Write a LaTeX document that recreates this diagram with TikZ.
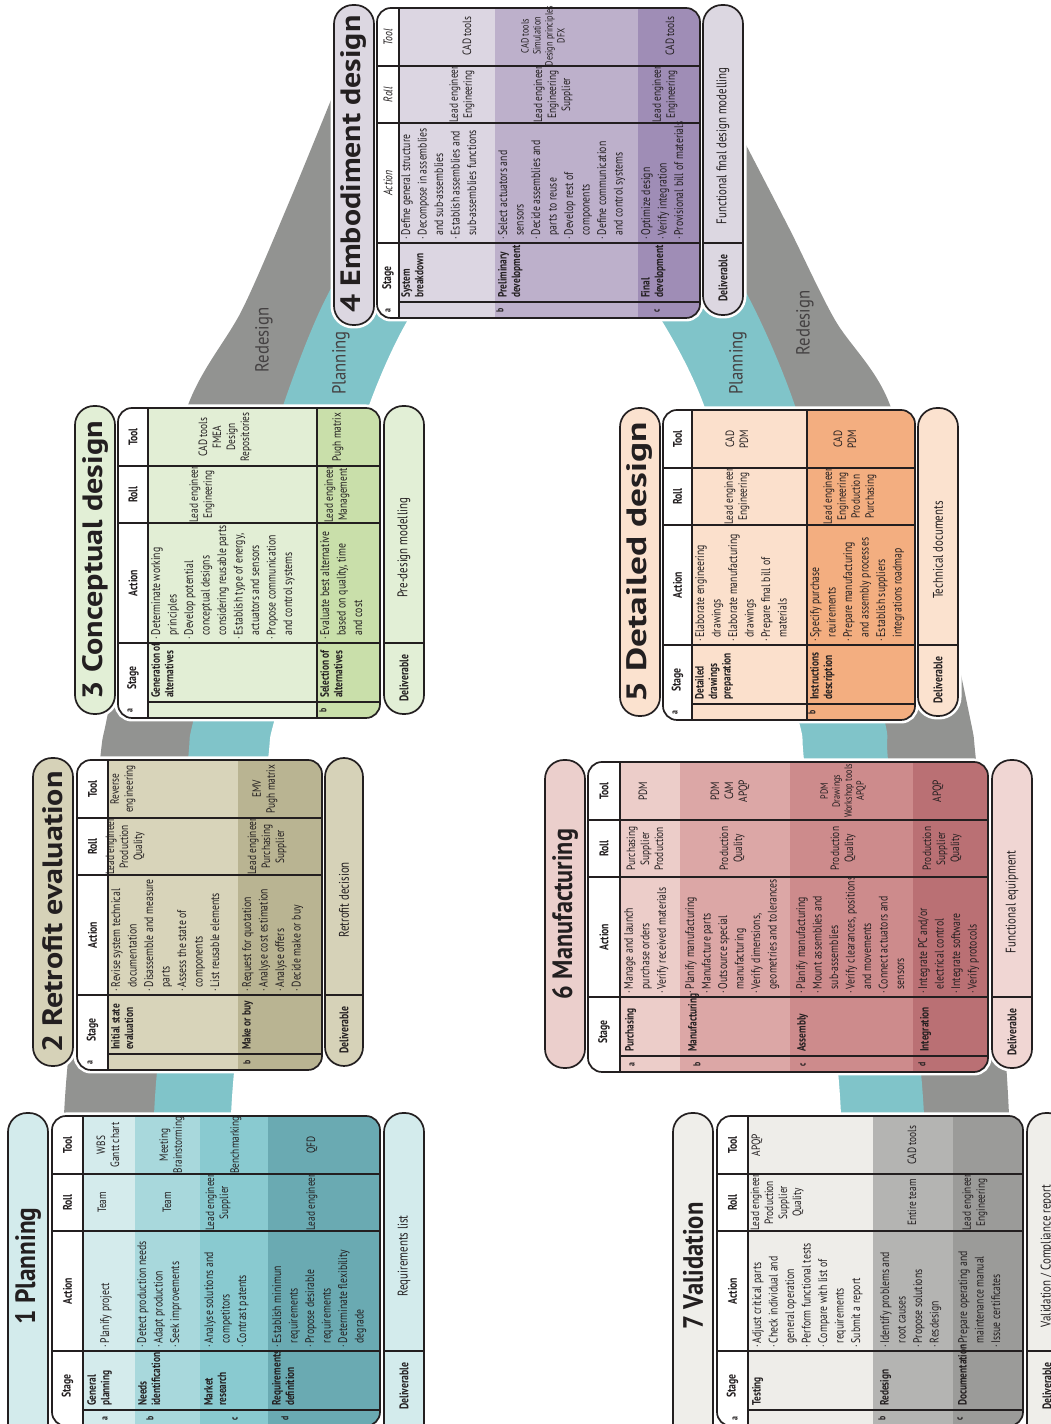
\documentclass[tikz,border=0pt]{standalone}
\usepackage{fontspec}
\usepackage{graphicx}
\setmainfont{PT Sans}[FakeStretch=0.78]
\newfontfamily\titlefont{PT Sans}[FakeStretch=0.85]
\newfontfamily\bandfont{PT Sans}[FakeStretch=0.88]
\definecolor{bandgray}{RGB}{146,147,145}
\definecolor{bandteal}{RGB}{128,196,201}
\definecolor{ink}{RGB}{35,31,32}
\definecolor{pAt}{RGB}{211,235,236}\definecolor{pAa}{RGB}{212,235,236}\definecolor{pAb}{RGB}{168,216,220}\definecolor{pAc}{RGB}{137,202,208}\definecolor{pAd}{RGB}{106,170,178}
\definecolor{pBt}{RGB}{214,210,184}\definecolor{pBa}{RGB}{216,212,186}\definecolor{pBb}{RGB}{185,180,146}
\definecolor{pCt}{RGB}{226,239,214}\definecolor{pCa}{RGB}{226,238,213}\definecolor{pCb}{RGB}{201,223,170}
\definecolor{pDt}{RGB}{220,215,225}\definecolor{pDa}{RGB}{220,214,226}\definecolor{pDb}{RGB}{189,176,203}\definecolor{pDc}{RGB}{159,141,182}
\definecolor{pEt}{RGB}{251,226,207}\definecolor{pEa}{RGB}{251,224,204}\definecolor{pEb}{RGB}{243,174,128}
\definecolor{pFt}{RGB}{235,207,204}\definecolor{pFd}{RGB}{240,214,211}\definecolor{pFa}{RGB}{236,205,201}\definecolor{pFb}{RGB}{220,167,166}\definecolor{pFc}{RGB}{205,139,140}\definecolor{pFdd}{RGB}{186,112,116}
\definecolor{pGt}{RGB}{239,238,234}\definecolor{pGa}{RGB}{238,237,233}\definecolor{pGb}{RGB}{180,180,178}\definecolor{pGc}{RGB}{155,155,153}
\newcommand\bu{\makebox[4.5pt][l]{·}}
\newcommand\ind{\hspace*{4.5pt}}
\newcommand\pillhalo[4]{\draw[halo,rounded corners=19pt] (#1,-#3) rectangle (#2,-#4);}
\newcommand\pillbody[5]{\draw[outl,fill=#5,rounded corners=19pt] (#1,-#3) rectangle (#2,-#4);}
\newcommand\tblhalo[2]{\draw[halo,rounded corners=14pt] (0,-#1) rectangle (310,-#2);}
\newcommand\tblclip[2]{\clip[rounded corners=14pt] (0,-#1) rectangle (310,-#2);}
\newcommand\rowfill[3]{\fill[#1] (0,-#2) rectangle (310,-#3);}
\newcommand\tbllines[3]{%
  \draw[inl] (0,-#3) -- (310,-#3);
  \draw[inl] (16,-#3) -- (16,-#2);
  \draw[inl] (75,-#1) -- (75,-#2);
  \draw[inl] (195,-#1) -- (195,-#2);
  \draw[inl] (252,-#1) -- (252,-#2);
  \draw[outl,rounded corners=14pt] (0,-#1) rectangle (310,-#2);}
\newcommand\delivbody[5]{%
  \draw[outl,fill=#5,rounded corners=19pt] (#1,-#3) rectangle (#2,-#4);
  \draw[inl] (75,-#3) -- (75,-#4);}
\tikzset{
  halo/.style={draw=white, line width=7pt},
  outl/.style={draw=ink, line width=1.7pt},
  inl/.style={draw=ink, line width=1.1pt},
  hdr/.style={inner sep=0pt, text=ink, font=\bfseries\fontsize{12.5}{14}\selectfont},
  hdri/.style={inner sep=0pt, text=ink, font=\itshape\fontsize{12.5}{14}\selectfont},
  ltr/.style={inner sep=0pt, text=ink, font=\bfseries\fontsize{10}{12}\selectfont},
  stg/.style={anchor=north west, inner sep=0pt, align=left, text=ink, font=\bfseries\fontsize{12}{13.5}\selectfont},
  act/.style={anchor=north west, inner sep=0pt, align=left, text=ink, font=\fontsize{12.5}{16.5}\selectfont},
  cell/.style={inner sep=0pt, align=center, text=ink, font=\fontsize{12}{14}\selectfont},
  cellsm/.style={inner sep=0pt, align=center, text=ink, font=\fontsize{10.5}{12}\selectfont},
  dlab/.style={inner sep=0pt, text=ink, font=\bfseries\fontsize{12.5}{14}\selectfont},
  dtxt/.style={inner sep=0pt, text=ink, font=\fontsize{14}{16}\selectfont},
  ttl/.style={inner sep=0pt, text=ink, font=\titlefont\bfseries\fontsize{28}{30}\selectfont},
  bandlbl/.style={inner sep=0pt, text=ink!85, font=\bandfont\fontsize{19}{22}\selectfont, rotate=90},
}
\begin{document}
\begin{tikzpicture}[x=1pt,y=1pt]
\useasboundingbox (0,0) rectangle (1051,1424);
\fill[white] (0,0) rectangle (1051,1424);
\clip (0,0) rectangle (1051,1424);
% ---------------- bands (portrait pixel coordinates) ----------------
\begin{scope}[shift={(0,1424)}, yscale=-1]
\fill[bandgray] plot[smooth] coordinates {(57,1440) (64,1115) (82,940) (100,760) (107,718) (140,560) (190,400) (242,310) (290,200) (333,95)} -- (345,70) -- (360,40) -- (715,40) -- (735,90) -- plot[smooth] coordinates {(745,143) (790,230) (835,320) (888,400) (935,560) (970,718) (976,760) (995,940) (1009,1115) (1017,1440)} -- cycle;
\fill[bandteal] plot[smooth] coordinates {(148,1440) (154,1115) (172,940) (188,760) (194,718) (235,560) (285,400) (325,300) (375,220) (450,165) (537,145) (625,165) (700,220) (750,300) (793,400) (842,560) (884,718) (888,760) (905,940) (924,1115) (930,1440)} -- cycle;
\fill[white] plot[smooth] coordinates {(226,1440) (231,1115) (250,940) (268,760) (275,718) (320,560) (371,400) (414,310) (470,250) (537,230) (605,250) (655,310) (702,400) (752,560) (798,718) (804,760) (822,940) (841,1115) (844,1440)} -- cycle;
\node[bandlbl] (redL) at (264,340) {Redesign};
\node[bandlbl] (plaL) at (341,363) {Planning};
\node[bandlbl] (plaR) at (738,363) {Planning};
\node[bandlbl] (redR) at (805,323) {Redesign};
\end{scope}
% ---------------- blocks (landscape coordinates, rotated) ----------------
\begin{scope}[rotate=90, transform shape]
%%%%% Block 1
\begin{scope}[xshift=-2pt]
\pillhalo{-28}{313}{8}{48}\tblhalo{52}{380}\pillhalo{-28}{313}{384}{424}
\pillbody{-28}{313}{8}{48}{pAt}
\node[ttl] (t1) at (160,-28) {\resizebox{117pt}{\height}{1 Planning}};
\begin{scope}\tblclip{52}{380}
\rowfill{pAa}{83}{135}\rowfill{pAb}{135}{200}\rowfill{pAc}{200}{268}\rowfill{pAd}{268}{380}\rowfill{white}{52}{83}
\end{scope}
\tbllines{52}{380}{83}
\node[hdr] (b1hs) at (40,-67.5) {Stage};
\node[hdr] (b1ha) at (135,-67.5) {Action};
\node[hdr] (b1hr) at (223.5,-67.5) {Roll};
\node[hdr] (b1ht) at (281,-67.5) {Tool};
\node[ltr] (b1la) at (7.5,-105) {a};
\node[ltr] (b1lb) at (7.5,-150) {b};
\node[ltr] (b1lc) at (7.5,-235) {c};
\node[ltr] (b1ld) at (7.5,-285) {d};
\node[stg] (b1sa) at (20,-87) {General\\planning};
\node[stg] (b1sb) at (20,-138) {Needs\\identification};
\node[stg] (b1sc) at (20,-204) {Market\\research};
\node[stg] (b1sd) at (20,-272) {Requirements\\definition};
\node[act,anchor=west] (b1aa) at (78,-106) {\bu Planify project};
\node[act] (b1ab) at (78,-137) {\bu Detect production needs\\\bu Adapt production\\\bu Seek improvements};
\node[act] (b1ac) at (78,-204) {\bu Analyse solutions and\\\ind competitors\\\bu Contrast patents};
\node[act] (b1ad) at (78,-272) {\bu Establish minimun\\\ind requirements\\\bu Propose desirable\\\ind requirements\\\bu Determinate flexibility\\\ind degrade};
\node[cell] (b1ra) at (223.5,-102) {Team};
\node[cell] (b1rb) at (223.5,-167) {Team};
\node[cell] (b1rc) at (223.5,-218) {Lead engineer\\Supplier};
\node[cell] (b1rd) at (223.5,-312) {Lead engineer};
\node[cell] (b1ta) at (281,-108) {WBS\\Gantt chart};
\node[cell] (b1tb) at (281,-172) {Meeting\\Brainstorming};
\node[cell] (b1tc) at (281,-236) {Benchmarking};
\node[cell] (b1td) at (281,-312) {QFD};
\delivbody{-28}{313}{384}{424}{pAt}
\node[dlab] (b1dl) at (40,-404) {Deliverable};
\node[dtxt] (b1dt) at (170,-404) {Requirements list};
\end{scope}
%%%%% Block 2
\begin{scope}[xshift=354pt]
\pillhalo{4}{312}{33}{73}\tblhalo{77}{322}\pillhalo{4}{312}{325}{363}
\pillbody{4}{312}{33}{73}{pBt}
\node[ttl] (t2) at (158,-53) {\resizebox{281pt}{\height}{2 Retrofit evaluation}};
\begin{scope}\tblclip{77}{322}
\rowfill{pBa}{108}{238}\rowfill{pBb}{238}{322}\rowfill{white}{77}{108}
\end{scope}
\tbllines{77}{322}{108}
\node[hdr] (b2hs) at (40,-92.5) {Stage};
\node[hdr] (b2ha) at (135,-92.5) {Action};
\node[hdr] (b2hr) at (223.5,-92.5) {Roll};
\node[hdr] (b2ht) at (281,-92.5) {Tool};
\node[ltr] (b2la) at (7.5,-90) {a};
\node[ltr] (b2lb) at (7.5,-247) {b};
\node[stg] (b2sa) at (20,-111) {Initial state\\evaluation};
\node[stg] (b2sb) at (20,-242) {Make or buy};
\node[act] (b2aa) at (78,-111) {\bu Revise system technical\\\ind documentation\\\bu Disassemble and measure\\\ind parts\\\bu Assess the state of\\\ind components\\\bu List reusable elements};
\node[act] (b2ab) at (78,-242) {\bu Request for quotation\\\bu Analyse cost estimation\\\bu Analyse offers\\\bu Decide make or buy};
\node[cell] (b2ra) at (223.5,-125) {Lead engineer\\Production\\Quality};
\node[cell] (b2rb) at (223.5,-267) {Lead engineer\\Purchasing\\Supplier};
\node[cell] (b2ta) at (281,-123) {Reverse\\engineering};
\node[cell] (b2tb) at (281,-265) {EMV\\Pugh matrix};
\delivbody{4}{312}{325}{363}{pBt}
\node[dlab] (b2dl) at (40,-344) {Deliverable};
\node[dtxt] (b2dt) at (170,-344) {Retrofit decision};
\end{scope}
%%%%% Block 3
\begin{scope}[xshift=706pt]
\pillhalo{4}{312}{75}{115}\tblhalo{118}{380}\pillhalo{4}{312}{384}{424}
\pillbody{4}{312}{75}{115}{pCt}
\node[ttl] (t3) at (158,-95) {\resizebox{278pt}{\height}{3 Conceptual design}};
\begin{scope}\tblclip{118}{380}
\rowfill{pCa}{148}{317}\rowfill{pCb}{317}{380}\rowfill{white}{118}{148}
\end{scope}
\draw[inl] (0,-317) -- (310,-317);
\tbllines{118}{380}{148}
\node[hdr] (b3hs) at (40,-133) {Stage};
\node[hdr] (b3ha) at (135,-133) {Action};
\node[hdr] (b3hr) at (223.5,-133) {Roll};
\node[hdr] (b3ht) at (281,-133) {Tool};
\node[ltr] (b3la) at (7.5,-130) {a};
\node[ltr] (b3lb) at (7.5,-323) {b};
\begin{scope}
\clip (16,-148) rectangle (75.5,-317);
\node[stg] (b3sa) at (20,-151) {Generation of\\alternatives};
\end{scope}
\node[stg] (b3sb) at (20,-320) {Selection of\\alternatives};
\node[act] (b3aa) at (78,-151) {\bu Determinate working\\\ind principles\\\bu Develop potential\\\ind conceptual designs\\\ind considering reusable parts\\\bu Establish type of energy,\\\ind actuators and sensors\\\bu Propose communication\\\ind and control systems};
\node[act] (b3ab) at (78,-320) {\bu Evaluate best alternative\\\ind based on quality, time\\\ind and cost};
\node[cell] (b3ra) at (223.5,-202) {Lead engineer\\Engineering};
\node[cell] (b3rb) at (223.5,-337) {Lead engineer\\Management};
\node[cell] (b3ta) at (281,-225) {CAD tools\\FMEA\\Design\\Repositories};
\node[cell] (b3tb) at (281,-338) {Pugh matrix};
\delivbody{4}{312}{384}{424}{pCt}
\node[dlab] (b3dl) at (40,-404) {Deliverable};
\node[dtxt] (b3dt) at (170,-404) {Pre-design modelling};
\end{scope}
%%%%% Block 4
\begin{scope}[xshift=1106pt]
\pillhalo{-7}{313}{334}{374}\tblhalo{377}{700}\pillhalo{3}{313}{703}{743}
\pillbody{-7}{313}{334}{374}{pDt}
\node[ttl] (t4) at (154,-354) {\resizebox{297pt}{\height}{4 Embodiment design}};
\begin{scope}\tblclip{377}{700}
\rowfill{pDa}{399}{495}\rowfill{pDb}{495}{638}\rowfill{pDc}{638}{700}\rowfill{white}{377}{399}
\end{scope}
\tbllines{377}{700}{399}
\node[hdr] (b4hs) at (40,-388) {Stage};
\node[hdri] (b4ha) at (135,-388) {Action};
\node[hdri] (b4hr) at (223.5,-388) {Roll};
\node[hdri] (b4ht) at (281,-388) {Tool};
\node[ltr] (b4la) at (7.5,-388) {a};
\node[ltr] (b4lb) at (7.5,-500) {b};
\node[ltr] (b4lc) at (7.5,-657) {c};
\node[stg] (b4sa) at (20,-401) {System\\breakdown};
\node[stg] (b4sb) at (20,-498) {Preliminary\\development};
\node[stg] (b4sc) at (20,-641) {Final\\development};
\node[act] (b4aa) at (78,-401) {\bu Define general structure\\\bu Decompose in assemblies\\\ind and sub-assemblies\\\bu Establish assemblies and\\\ind sub-assemblies functions};
\node[act] (b4ab) at (78,-498) {\bu Select actuators and\\\ind sensors\\\bu Decide assemblies and\\\ind parts to reuse\\\bu Develop rest of\\\ind components\\\bu Define communication\\\ind and control systems};
\node[act] (b4ac) at (78,-641) {\bu Optimize design\\\bu Verify integration\\\bu Provisional bill of materials};
\node[cell] (b4ra) at (223.5,-462) {Lead engineer\\Engineering};
\node[cell] (b4rb) at (223.5,-553) {Lead engineer\\Engineering\\Supplier};
\node[cell] (b4rc) at (223.5,-665) {Lead engineer\\Engineering};
\node[cell] (b4ta) at (282,-467) {CAD tools};
\node[cellsm] (b4tb) at (282,-543) {CAD tools\\Simulation\\Design principles\\DFX};
\node[cell] (b4tc) at (282,-670) {CAD tools};
\delivbody{3}{313}{703}{743}{pDt}
\node[dlab] (b4dl) at (40,-723) {Deliverable};
\node[dtxt] (b4dt) at (172,-723) {Functional final design modelling};
\end{scope}
%%%%% Block 5
\begin{scope}[xshift=704pt]
\pillhalo{4}{312}{620}{660}\tblhalo{663}{915}\pillhalo{4}{312}{918}{958}
\pillbody{4}{312}{620}{660}{pEt}
\node[ttl] (t5) at (158,-640) {\resizebox{280pt}{\height}{5 Detailed design}};
\begin{scope}\tblclip{663}{915}
\rowfill{pEa}{692}{807}\rowfill{pEb}{807}{915}\rowfill{white}{663}{692}
\end{scope}
\draw[inl] (0,-807) -- (310,-807);
\tbllines{663}{915}{692}
\node[hdr] (b5hs) at (40,-677.5) {Stage};
\node[hdr] (b5ha) at (135,-677.5) {Action};
\node[hdr] (b5hr) at (223.5,-677.5) {Roll};
\node[hdr] (b5ht) at (281,-677.5) {Tool};
\node[ltr] (b5la) at (7.5,-675) {a};
\node[ltr] (b5lb) at (7.5,-812) {b};
\node[stg] (b5sa) at (20,-695) {Detailed\\drawings\\preparation};
\node[stg] (b5sb) at (20,-810) {Instructions\\description};
\node[act] (b5aa) at (78,-695) {\bu Elaborate engineering\\\ind drawings\\\bu Elaborate manufacturing\\\ind drawings\\\bu Prepare final bill of\\\ind materials};
\node[act] (b5ab) at (78,-810) {\bu Specify purchase\\\ind reuirements\\\bu Prepare manufacturing\\\ind and assembly processes\\\bu Establish suppliers\\\ind integrations roadmap};
\node[cell] (b5ra) at (223.5,-737) {Lead engineer\\Engineering};
\node[cell] (b5rb) at (223.5,-850) {Lead engineer\\Engineering\\Production\\Purchasing};
\node[cell] (b5ta) at (281,-737) {CAD\\PDM};
\node[cell] (b5tb) at (281,-845) {CAD\\PDM};
\delivbody{4}{312}{918}{958}{pEt}
\node[dlab] (b5dl) at (40,-938) {Deliverable};
\node[dtxt] (b5dt) at (170,-938) {Technical documents};
\end{scope}
%%%%% Block 6
\begin{scope}[xshift=352pt]
\pillhalo{4}{312}{545}{585}\tblhalo{588}{988}\pillhalo{4}{312}{992}{1032}
\pillbody{4}{312}{545}{585}{pFt}
\node[ttl] (t6) at (158,-565) {\resizebox{170pt}{\height}{6 Manufacturing}};
\begin{scope}\tblclip{588}{988}
\rowfill{pFa}{620}{680}\rowfill{pFb}{680}{790}\rowfill{pFc}{790}{913}\rowfill{pFdd}{913}{988}\rowfill{white}{588}{620}
\end{scope}
\tbllines{588}{988}{620}
\node[hdr] (b6hs) at (40,-604) {Stage};
\node[hdr] (b6ha) at (135,-604) {Action};
\node[hdr] (b6hr) at (223.5,-604) {Roll};
\node[hdr] (b6ht) at (281,-604) {Tool};
\node[ltr] (b6la) at (7.5,-632) {a};
\node[ltr] (b6lb) at (7.5,-697) {b};
\node[ltr] (b6lc) at (7.5,-803) {c};
\node[ltr] (b6ld) at (7.5,-922) {d};
\node[stg] (b6sa) at (20,-625) {Purchasing};
\node[stg] (b6sb) at (20,-688) {Manufacturing};
\node[stg] (b6sc) at (20,-797) {Assembly};
\node[stg] (b6sd) at (20,-920) {Integration};
\node[act] (b6aa) at (78,-624) {\bu Manage and launch\\\ind purchase orders\\\bu Verify received materials};
\node[act] (b6ab) at (78,-685) {\bu Planify manufacturing\\\bu Manufacture parts\\\bu Outsource special\\\ind manufacturing\\\bu Verify dimensions,\\\ind geometries and tolerances};
\node[act] (b6ac) at (78,-796) {\bu Planify manufacturing\\\bu Mount assemblies and\\\ind sub-assemblies\\\bu Verify clearances, positions\\\ind and movements\\\bu Connect actuators and\\\ind sensors};
\node[act] (b6ad) at (78,-918) {\bu Integrate PC and/or\\\ind electrical control\\\bu Integrate software\\\bu Verify protocols};
\node[cell] (b6ra) at (223.5,-645) {Purchasing\\Supplier\\Production};
\node[cell] (b6rb) at (223.5,-732) {Production\\Quality};
\node[cell] (b6rc) at (223.5,-843) {Production\\Quality};
\node[cell] (b6rd) at (223.5,-942) {Production\\Supplier\\Quality};
\node[cell] (b6ta) at (281,-643) {PDM};
\node[cell] (b6tb) at (281,-730) {PDM\\CAM\\APQP};
\node[cellsm] (b6tc) at (281,-843) {PDM\\Drawings\\Workshop tools\\APQP};
\node[cell] (b6td) at (281,-938) {APQP};
\delivbody{4}{312}{992}{1032}{pFd}
\node[dlab] (b6dl) at (40,-1012) {Deliverable};
\node[dtxt] (b6dt) at (170,-1012) {Functional equipment};
\end{scope}
%%%%% Block 7
\begin{scope}[xshift=-2pt]
\pillhalo{-28}{313}{673}{713}\tblhalo{717}{1023}\pillhalo{-28}{313}{1027}{1067}
\pillbody{-28}{313}{673}{713}{pGt}
\node[ttl] (t7) at (160,-693) {\resizebox{127pt}{\height}{7 Validation}};
\begin{scope}\tblclip{717}{1023}
\rowfill{pGa}{748}{873}\rowfill{pGb}{873}{953}\rowfill{pGc}{953}{1023}\rowfill{white}{717}{748}
\end{scope}
\tbllines{717}{1023}{748}
\node[hdr] (b7hs) at (40,-732.5) {Stage};
\node[hdr] (b7ha) at (135,-732.5) {Action};
\node[hdr] (b7hr) at (223.5,-732.5) {Roll};
\node[hdr] (b7ht) at (281,-732.5) {Tool};
\node[ltr] (b7la) at (7.5,-735) {a};
\node[ltr] (b7lb) at (7.5,-882) {b};
\node[ltr] (b7lc) at (7.5,-960) {c};
\node[stg] (b7sa) at (20,-752) {Testing};
\node[stg] (b7sb) at (20,-880) {Redesign};
\node[stg] (b7sc) at (20,-958) {Documentation};
\node[act] (b7aa) at (78,-752) {\bu Adjust critical parts\\\bu Check individual and\\\ind general operation\\\bu Perform functional tests\\\bu Compare with list of\\\ind requirements\\\bu Submit a report};
\node[act] (b7ab) at (78,-880) {\bu Identify problems and\\\ind root causes\\\bu Propose solutions\\\bu Resdesign};
\node[act] (b7ac) at (78,-958) {\bu Prepare operating and\\\ind maintenance manual\\\bu Issue certificates};
\node[cell] (b7ra) at (223.5,-777) {Lead engineer\\Production\\Supplier\\Quality};
\node[cell] (b7rb) at (223.5,-912) {Entire team};
\node[cell] (b7rc) at (223.5,-975) {Lead engineer\\Engineering};
\node[cell] (b7ta) at (281,-757) {APQP};
\node[cell] (b7tb) at (281,-912) {CAD tools};
\delivbody{-28}{313}{1027}{1067}{pGt}
\node[dlab] (b7dl) at (40,-1047) {Deliverable};
\node[dtxt] (b7dt) at (170,-1047) {Validation / Compliance report};
\end{scope}
\end{scope}
\end{tikzpicture}
\end{document}
